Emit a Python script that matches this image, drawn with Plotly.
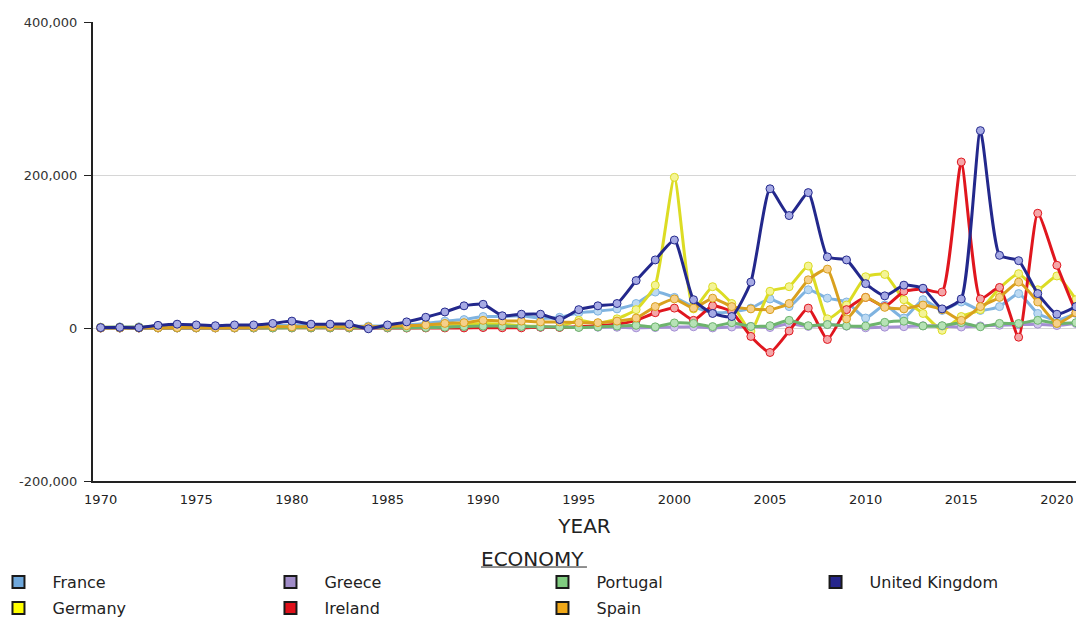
import plotly.graph_objects as go

years = list(range(1970, 2022))

france = [1000, 1500, 1500, 2000, 2500, 2000, 2000, 2500, 2500, 3000,
          3500, 3000, 2000, 2000, 2500, 3000, 4000, 6000, 9000, 11000,
          15000, 15000, 16000, 13000, 14000, 20000, 22000, 25000, 32000, 47000,
          40000, 28000, 20000, 21000, 26000, 38000, 28000, 50000, 39000, 34000,
          13000, 30000, 13000, 37000, 23000, 34000, 23000, 28000, 45000, 19000,
          10000, 19000]
germany = [1000, 1000, 1000, 2000, 1000, 1000, 1000, 1000, 2000, 2000,
           1000, 500, 1000, 2000, 1000, 1000, 2000, 3000, 4000, 5000,
           6000, 5000, 3000, 2000, 1000, 10000, 6000, 12000, 24000, 56000,
           197000, 25000, 54000, 32000, -4000, 48000, 54000, 81000, 12000, 30000,
           67000, 70000, 37000, 19000, -3000, 15000, 24000, 52000, 71000, 50000,
           68000, 37000]
greece = [200, 200, 200, 300, 300, 400, 400, 400, 500, 500,
          600, 500, 400, 400, 500, 400, 450, 700, 900, 750,
          1000, 1100, 1100, 980, 980, 1050, 1060, 980, 200, 600,
          1100, 1600, 100, 1300, 2100, 600, 5400, 2100, 4500, 2400,
          300, 1100, 1700, 2900, 2700, 1300, 2700, 3600, 4200, 5000,
          3200, 5800]
ireland = [0, 0, 0, 100, 100, 100, 100, 100, 100, 200,
           200, 200, 200, 100, 100, 100, 0, 100, 100, 100,
           600, 300, 200, 1000, 800, 1500, 3000, 5000, 10000, 20000,
           26000, 10000, 29000, 21000, -11000, -32000, -4000, 26000, -15000, 24000,
           40000, 28000, 48000, 51000, 47000, 217000, 38000, 53000, -12000, 150000,
           82000, 20000]
portugal = [100, 100, 100, 100, 100, 100, 100, 100, 100, 100,
            200, 200, 200, 200, 200, 300, 300, 500, 1000, 2000,
            2500, 2500, 2000, 1500, 1200, 700, 1500, 2500, 3500, 1500,
            6600, 6000, 1800, 7000, 2000, 3000, 10000, 3000, 4500, 2700,
            2600, 7400, 8900, 2700, 3000, 7000, 1600, 6000, 5800, 10000,
            6000, 7000]
spain = [200, 200, 300, 400, 500, 500, 400, 500, 1000, 1500,
         1500, 1500, 1500, 1500, 1500, 2000, 3000, 4000, 6000, 7000,
         10000, 9000, 9000, 8000, 8000, 7000, 7000, 9000, 13000, 28000,
         38000, 26000, 39000, 28000, 25000, 24000, 32000, 63000, 77000, 12000,
         40000, 27000, 25000, 30000, 24000, 10000, 28000, 40000, 60000, 34000,
         6000, 20000]
uk = [500, 800, 500, 3500, 5000, 4000, 3000, 4000, 4000, 6000,
      9000, 5000, 5000, 5000, -1000, 4000, 8000, 14000, 21000, 29000,
      31000, 16000, 18000, 18000, 11000, 24000, 29000, 32000, 62000, 89000,
      115000, 37000, 19000, 15000, 60000, 182000, 147000, 177000, 93000, 89000,
      58000, 42000, 56000, 52000, 25000, 38000, 258000, 95000, 88000, 45000,
      18000, 28000]

y_tickvals = [-200000, 0, 200000, 400000]
y_ticktext = ["-200,000", "0", "200,000", "400,000"]
x_tickvals = list(range(1970, 2021, 5))

# name, values, line colour, marker fill, legend swatch
series = [
    ("France", france, "#7fb3e0", "#bcd9f2", "#6fa8dc"),
    ("Germany", germany, "#dcdc24", "#f4f496", "#ffff00"),
    ("Greece", greece, "#a48fd3", "#d2c6ee", "#a08cc8"),
    ("Ireland", ireland, "#e0161e", "#f4a6a8", "#e0101a"),
    ("Portugal", portugal, "#6db46d", "#b6e2b6", "#80cc80"),
    ("Spain", spain, "#d9a01e", "#f6d08a", "#f0a818"),
    ("United Kingdom", uk, "#23288c", "#a6aae4", "#26268c"),
]

# legend grid positions (paper units)
legend_cols = [-0.1104, 0.1663, 0.4430, 0.7208]
legend_rows = [-0.2200, -0.2767]
legend_layout = [
    ("France", 0, 0), ("Greece", 1, 0), ("Portugal", 2, 0), ("United Kingdom", 3, 0),
    ("Germany", 0, 1), ("Ireland", 1, 1), ("Spain", 2, 1),
]

FONT = "DejaVu Sans, Verdana, sans-serif"

fig = go.Figure()
for name, vals, lc, mc, sw in series:
    fig.add_trace(go.Scatter(
        x=years, y=vals, mode="lines+markers", name=name, showlegend=False,
        line=dict(color=lc, width=3, shape="spline", smoothing=0.5),
        marker=dict(symbol="circle", size=8, color=mc, line=dict(color=lc, width=1)),
        hovertemplate="%{x}: %{y:,}<extra>" + name + "</extra>",
    ))

swatch = {s[0]: s[4] for s in series}
legend_defs = {}
for i, (name, c, r) in enumerate(legend_layout):
    key = "legend" if i == 0 else "legend%d" % (i + 1)
    fig.add_trace(go.Scatter(
        x=[None], y=[None], mode="markers", name=name, showlegend=True, legend=key,
        marker=dict(symbol="square", size=16, color=swatch[name],
                    line=dict(color="#1a1a1a", width=1.6)),
    ))
    legend_defs[key] = dict(
        x=legend_cols[c], y=legend_rows[r], orientation="h",
        xanchor="left", yanchor="middle", itemwidth=58,
        font=dict(family=FONT, size=16, color="#222222"), itemsizing="constant",
        bgcolor="rgba(0,0,0,0)",
    )

fig.update_layout(
    width=1076, height=621,
    margin=dict(l=93, r=0, t=22, b=140, autoexpand=False),
    paper_bgcolor="white", plot_bgcolor="white",
    font=dict(family=FONT, color="#333333"),
    xaxis=dict(
        range=[1969.6, 2021.0], tickmode="array", tickvals=x_tickvals,
        showgrid=False, zeroline=False, showline=True, linecolor="#222222", linewidth=2,
        ticks="", ticklabelstandoff=5, tickfont=dict(family=FONT, size=13, color="#222222"),
        title=dict(text="YEAR", font=dict(family=FONT, size=20, color="#222222"), standoff=13),
    ),
    yaxis=dict(
        range=[-200000, 400000], tickmode="array", tickvals=y_tickvals, ticktext=y_ticktext,
        showgrid=True, gridcolor="#d6d6d6", gridwidth=1,
        zeroline=False, showline=True, linecolor="#222222", linewidth=2,
        ticks="outside", ticklen=7, tickcolor="#222222", ticklabelstandoff=4,
        tickfont=dict(family=FONT, size=13, color="#333333"),
    ),
    annotations=[dict(
        text="ECONOMY", xref="paper", yref="paper", x=0.4476, y=-0.1699,
        xanchor="center", yanchor="middle", showarrow=False,
        font=dict(family=FONT, size=20, color="#222222"),
    )],
    shapes=[dict(
        type="line", xref="paper", yref="paper", x0=0.3947, x1=0.5025,
        y0=-0.1874, y1=-0.1874, line=dict(color="#222222", width=1),
    )],
    **legend_defs,
)

fig.write_html(
    "out.html",
    config={"displayModeBar": False},
    post_script="document.body.style.margin='0';document.body.style.overflow='hidden';",
)
